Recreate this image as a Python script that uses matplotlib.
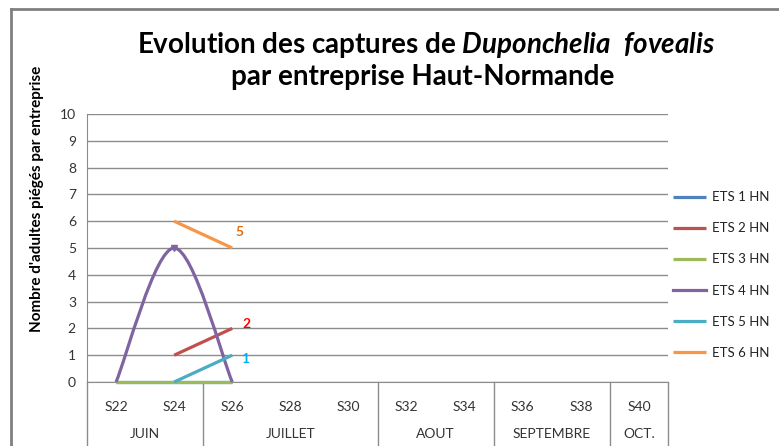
import numpy as np
import matplotlib
matplotlib.use("Agg")
import matplotlib.pyplot as plt
from matplotlib.path import Path
from matplotlib.patches import PathPatch
from matplotlib.transforms import blended_transform_factory

plt.rcParams['font.family'] = ['Lato', 'DejaVu Sans']
plt.rcParams['mathtext.fontset'] = 'custom'
plt.rcParams['mathtext.it'] = 'Lato:italic:bold'
plt.rcParams['mathtext.rm'] = 'Lato:bold'

# semaines de piegeage
weeks = ['S22', 'S24', 'S26', 'S28', 'S30', 'S32', 'S34', 'S36', 'S38', 'S40']
months = ['JUIN', 'JUILLET', 'AOUT', 'SEPTEMBRE', 'OCT.']
month_sizes = [2, 3, 2, 2, 1]

nan = np.nan
ets1 = [0, 0, 0, nan, nan, nan, nan, nan, nan, nan]
ets2 = [nan, 1, 2, nan, nan, nan, nan, nan, nan, nan]
ets3 = [0, 0, 0, nan, nan, nan, nan, nan, nan, nan]
ets4 = [0, 5, 0, nan, nan, nan, nan, nan, nan, nan]
ets5 = [nan, 0, 1, nan, nan, nan, nan, nan, nan, nan]
ets6 = [nan, 6, 5, nan, nan, nan, nan, nan, nan, nan]

series = {
    'ETS 1 HN': ets1,
    'ETS 2 HN': ets2,
    'ETS 3 HN': ets3,
    'ETS 4 HN': ets4,
    'ETS 5 HN': ets5,
    'ETS 6 HN': ets6,
}
colors = ['#4F81BD', '#C0504D', '#9BBB59', '#8064A2', '#4BACC6', '#F79646']
smooth = {'ETS 4 HN'}
# etiquettes de donnees (serie, semaine)
labels = [('ETS 6 HN', 'S26'), ('ETS 2 HN', 'S26'), ('ETS 5 HN', 'S26')]
label_colors = ['#E46C0A', '#FF0000', '#00B0F0']
label_offsets = [(5, 11.5), (10, 3), (9.5, -3)]

W, H = 779, 446
fig = plt.figure(figsize=(W / 100, H / 100), dpi=100)
ax = fig.add_axes([87 / W, 1 - 382 / H, (668 - 87) / W, (382 - 114) / H])

x = np.arange(len(weeks))
lw = 2.3


def smooth_path(xs, ys):
    # courbe de Bezier lissee (a la maniere d'Excel) passant par les points
    pts = np.column_stack([xs, ys])
    verts = [pts[0]]
    codes = [Path.MOVETO]
    for i in range(len(pts) - 1):
        p0 = pts[max(i - 1, 0)]
        p1 = pts[i]
        p2 = pts[i + 1]
        p3 = pts[min(i + 2, len(pts) - 1)]
        c1 = p1 + (p2 - p0) / 6
        c2 = p2 - (p3 - p1) / 6
        verts += [c1, c2, p2]
        codes += [Path.CURVE4] * 3
    return Path(verts, codes)


handles = []
for (name, vals), col in zip(series.items(), colors):
    vals = np.array(vals, dtype=float)
    ok = ~np.isnan(vals)
    if name in smooth:
        patch = PathPatch(smooth_path(x[ok], vals[ok]), facecolor='none',
                          edgecolor=col, lw=lw, zorder=3, capstyle='butt')
        patch.set_clip_on(False)
        ax.add_patch(patch)
        ax.plot(x[ok][1:2], vals[ok][1:2], marker='v', ms=5, color=col,
                lw=0, zorder=4)
        h, = ax.plot([], [], color=col, lw=lw, label=name)
    else:
        h, = ax.plot(x[ok], vals[ok], color=col, lw=lw, label=name,
                     zorder=3, solid_capstyle='butt', clip_on=False)
    handles.append(h)

for (name, wk), col, off in zip(labels, label_colors, label_offsets):
    i = weeks.index(wk)
    v = series[name][i]
    ax.annotate(f'{v:g}', (i, v), xytext=off,
                textcoords='offset points', color=col, fontsize=10,
                fontweight='bold', va='center', ha='center')

ax.set_xlim(-0.5, len(weeks) - 0.5)
ax.set_ylim(0, 10)
ax.set_yticks(range(0, 11))
ax.yaxis.grid(True, color='#8C8C8C', lw=1)
ax.set_axisbelow(True)
ax.set_xticks(x)
ax.set_xticklabels(weeks)
ax.tick_params(axis='both', length=0, labelsize=10, colors='#333333')
ax.tick_params(axis='x', pad=14)
ax.tick_params(axis='y', pad=8)
for s in ['top', 'right']:
    ax.spines[s].set_visible(False)
ax.spines['left'].set_color('#8C8C8C')
ax.spines['bottom'].set_color('#8C8C8C')
ax.spines['bottom'].set_zorder(1)

# tableau des mois sous l'axe
tr = blended_transform_factory(ax.transData, fig.transFigure)
y_axis = 1 - 382 / H
start = -0.5
ax.plot([-0.5, -0.5], [0, y_axis], transform=tr, color='#8C8C8C', lw=1,
        clip_on=False)
for m, n in zip(months, month_sizes):
    end = start + n
    ax.plot([end, end], [0, y_axis], transform=tr, color='#8C8C8C', lw=1,
            clip_on=False)
    ax.text((start + end) / 2, 1 - 434 / H, m, transform=tr, ha='center',
            va='center', fontsize=10, color='#333333')
    start = end

ax.set_ylabel("Nombre d'adultes piégés par entreprise", fontsize=11,
              fontweight='bold')
ax.yaxis.set_label_coords(44 / W, 1 - 199 / H, transform=fig.transFigure)

fig.text(426 / W, 1 - 45 / H,
         'Evolution des captures de $\\mathit{Duponchelia}$  $\\mathit{fovealis}$',
         ha='center', va='center', fontsize=20, fontweight='bold')
fig.text(423 / W, 1 - 77 / H, 'par entreprise Haut-Normande',
         ha='center', va='center', fontsize=20, fontweight='bold')

fig.legend(handles=handles, loc='center left',
           bbox_to_anchor=(673 / W, 1 - 275 / H), frameon=False,
           fontsize=9.5, handlelength=2.5, handletextpad=0.45,
           labelspacing=1.45, borderpad=0, borderaxespad=0,
           labelcolor='#222222')

# cadre exterieur
fig.add_artist(plt.Line2D([11 / W, 11 / W], [0, 1 - 9 / H], color='#808080',
                          lw=2, transform=fig.transFigure))
fig.add_artist(plt.Line2D([11 / W, 1], [1 - 9 / H, 1 - 9 / H],
                          color='#808080', lw=2, transform=fig.transFigure))

fig.savefig('out.png', dpi=100)
